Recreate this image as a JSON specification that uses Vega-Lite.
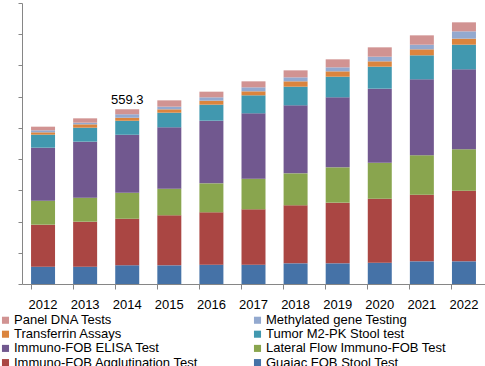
{
  "$schema": "https://vega.github.io/schema/vega-lite/v6.json",
  "width": 463,
  "height": 281,
  "autosize": {"type": "none"},
  "padding": {"left": 22, "top": 3, "right": 0, "bottom": 82},
  "background": "white",
  "config": {
    "view": {"stroke": null},
    "font": "Liberation Sans",
    "axis": {"domainColor": "#868686", "tickColor": "#868686", "grid": false}
  },
  "data": {
    "values": [
      {"year": "2012", "test": "Guaiac FOB Stool Test", "value": 55.5},
      {"year": "2012", "test": "Immuno-FOB Agglutination Test", "value": 134.5},
      {"year": "2012", "test": "Lateral Flow Immuno-FOB Test", "value": 76.9},
      {"year": "2012", "test": "Immuno-FOB ELISA Test", "value": 169.7},
      {"year": "2012", "test": "Tumor M2-PK Stool test", "value": 41.7},
      {"year": "2012", "test": "Transferrin Assays", "value": 7.5},
      {"year": "2012", "test": "Methylated gene Testing", "value": 6.4},
      {"year": "2012", "test": "Panel DNA Tests", "value": 11.7},
      {"year": "2013", "test": "Guaiac FOB Stool Test", "value": 55.5},
      {"year": "2013", "test": "Immuno-FOB Agglutination Test", "value": 144.1},
      {"year": "2013", "test": "Lateral Flow Immuno-FOB Test", "value": 76.9},
      {"year": "2013", "test": "Immuno-FOB ELISA Test", "value": 179.4},
      {"year": "2013", "test": "Tumor M2-PK Stool test", "value": 44.8},
      {"year": "2013", "test": "Transferrin Assays", "value": 10.7},
      {"year": "2013", "test": "Methylated gene Testing", "value": 5.3},
      {"year": "2013", "test": "Panel DNA Tests", "value": 13.9},
      {"year": "2014", "test": "Guaiac FOB Stool Test", "value": 59.8},
      {"year": "2014", "test": "Immuno-FOB Agglutination Test", "value": 149.4},
      {"year": "2014", "test": "Lateral Flow Immuno-FOB Test", "value": 83.3},
      {"year": "2014", "test": "Immuno-FOB ELISA Test", "value": 185.8},
      {"year": "2014", "test": "Tumor M2-PK Stool test", "value": 44.8},
      {"year": "2014", "test": "Transferrin Assays", "value": 9.6},
      {"year": "2014", "test": "Methylated gene Testing", "value": 10.7},
      {"year": "2014", "test": "Panel DNA Tests", "value": 15.9},
      {"year": "2015", "test": "Guaiac FOB Stool Test", "value": 59.8},
      {"year": "2015", "test": "Immuno-FOB Agglutination Test", "value": 160.1},
      {"year": "2015", "test": "Lateral Flow Immuno-FOB Test", "value": 85.4},
      {"year": "2015", "test": "Immuno-FOB ELISA Test", "value": 196.5},
      {"year": "2015", "test": "Tumor M2-PK Stool test", "value": 46.9},
      {"year": "2015", "test": "Transferrin Assays", "value": 10.7},
      {"year": "2015", "test": "Methylated gene Testing", "value": 8.6},
      {"year": "2015", "test": "Panel DNA Tests", "value": 20.2},
      {"year": "2016", "test": "Guaiac FOB Stool Test", "value": 61.9},
      {"year": "2016", "test": "Immuno-FOB Agglutination Test", "value": 167.6},
      {"year": "2016", "test": "Lateral Flow Immuno-FOB Test", "value": 92.9},
      {"year": "2016", "test": "Immuno-FOB ELISA Test", "value": 200.7},
      {"year": "2016", "test": "Tumor M2-PK Stool test", "value": 51.3},
      {"year": "2016", "test": "Transferrin Assays", "value": 12.8},
      {"year": "2016", "test": "Methylated gene Testing", "value": 10.7},
      {"year": "2016", "test": "Panel DNA Tests", "value": 18.1},
      {"year": "2017", "test": "Guaiac FOB Stool Test", "value": 61.9},
      {"year": "2017", "test": "Immuno-FOB Agglutination Test", "value": 177.2},
      {"year": "2017", "test": "Lateral Flow Immuno-FOB Test", "value": 98.3},
      {"year": "2017", "test": "Immuno-FOB ELISA Test", "value": 209.2},
      {"year": "2017", "test": "Tumor M2-PK Stool test", "value": 57.7},
      {"year": "2017", "test": "Transferrin Assays", "value": 12.8},
      {"year": "2017", "test": "Methylated gene Testing", "value": 12.8},
      {"year": "2017", "test": "Panel DNA Tests", "value": 19.2},
      {"year": "2018", "test": "Guaiac FOB Stool Test", "value": 66.2},
      {"year": "2018", "test": "Immuno-FOB Agglutination Test", "value": 185.8},
      {"year": "2018", "test": "Lateral Flow Immuno-FOB Test", "value": 102.4},
      {"year": "2018", "test": "Immuno-FOB ELISA Test", "value": 217.8},
      {"year": "2018", "test": "Tumor M2-PK Stool test", "value": 59.8},
      {"year": "2018", "test": "Transferrin Assays", "value": 17.1},
      {"year": "2018", "test": "Methylated gene Testing", "value": 12.8},
      {"year": "2018", "test": "Panel DNA Tests", "value": 22.4},
      {"year": "2019", "test": "Guaiac FOB Stool Test", "value": 66.2},
      {"year": "2019", "test": "Immuno-FOB Agglutination Test", "value": 194.3},
      {"year": "2019", "test": "Lateral Flow Immuno-FOB Test", "value": 113.2},
      {"year": "2019", "test": "Immuno-FOB ELISA Test", "value": 224.2},
      {"year": "2019", "test": "Tumor M2-PK Stool test", "value": 66.1},
      {"year": "2019", "test": "Transferrin Assays", "value": 17.1},
      {"year": "2019", "test": "Methylated gene Testing", "value": 12.8},
      {"year": "2019", "test": "Panel DNA Tests", "value": 25.7},
      {"year": "2020", "test": "Guaiac FOB Stool Test", "value": 68.3},
      {"year": "2020", "test": "Immuno-FOB Agglutination Test", "value": 205.0},
      {"year": "2020", "test": "Lateral Flow Immuno-FOB Test", "value": 115.3},
      {"year": "2020", "test": "Immuno-FOB ELISA Test", "value": 237.0},
      {"year": "2020", "test": "Tumor M2-PK Stool test", "value": 70.5},
      {"year": "2020", "test": "Transferrin Assays", "value": 17.1},
      {"year": "2020", "test": "Methylated gene Testing", "value": 14.9},
      {"year": "2020", "test": "Panel DNA Tests", "value": 29.9},
      {"year": "2021", "test": "Guaiac FOB Stool Test", "value": 72.6},
      {"year": "2021", "test": "Immuno-FOB Agglutination Test", "value": 213.5},
      {"year": "2021", "test": "Lateral Flow Immuno-FOB Test", "value": 126.0},
      {"year": "2021", "test": "Immuno-FOB ELISA Test", "value": 243.4},
      {"year": "2021", "test": "Tumor M2-PK Stool test", "value": 76.9},
      {"year": "2021", "test": "Transferrin Assays", "value": 19.2},
      {"year": "2021", "test": "Methylated gene Testing", "value": 14.9},
      {"year": "2021", "test": "Panel DNA Tests", "value": 29.9},
      {"year": "2022", "test": "Guaiac FOB Stool Test", "value": 72.6},
      {"year": "2022", "test": "Immuno-FOB Agglutination Test", "value": 226.3},
      {"year": "2022", "test": "Lateral Flow Immuno-FOB Test", "value": 132.4},
      {"year": "2022", "test": "Immuno-FOB ELISA Test", "value": 256.2},
      {"year": "2022", "test": "Tumor M2-PK Stool test", "value": 79.0},
      {"year": "2022", "test": "Transferrin Assays", "value": 19.3},
      {"year": "2022", "test": "Methylated gene Testing", "value": 23.4},
      {"year": "2022", "test": "Panel DNA Tests", "value": 28.9}
    ]
  },
  "layer": [
    {
      "transform": [
        {"calculate": "indexof(['Guaiac FOB Stool Test', 'Immuno-FOB Agglutination Test', 'Lateral Flow Immuno-FOB Test', 'Immuno-FOB ELISA Test', 'Tumor M2-PK Stool test', 'Transferrin Assays', 'Methylated gene Testing', 'Panel DNA Tests'], datum.test)", "as": "stackOrder"}
      ],
      "mark": {"type": "bar"},
      "encoding": {
        "x": {
          "field": "year", "type": "ordinal",
          "scale": {"paddingInner": 0.43, "paddingOuter": 0.215},
          "axis": {
            "title": null, "labelAngle": 0, "bandPosition": 0,
            "tickSize": 5, "labelPadding": 9, "labelFontSize": 13, "labelColor": "#000000"
          }
        },
        "y": {
          "field": "value", "type": "quantitative", "stack": "zero",
          "scale": {"domain": [0, 900], "nice": false},
          "axis": {"title": null, "labels": false, "values": [0,100,200,300,400,500,600,700,800,900], "tickSize": 4}
        },
        "order": {"field": "stackOrder", "type": "quantitative", "sort": "ascending"},
        "color": {
          "field": "test", "type": "nominal",
          "scale": {
            "domain": ["Panel DNA Tests", "Methylated gene Testing", "Transferrin Assays", "Tumor M2-PK Stool test", "Immuno-FOB ELISA Test", "Lateral Flow Immuno-FOB Test", "Immuno-FOB Agglutination Test", "Guaiac FOB Stool Test"],
            "range": ["#D19392", "#93A9CF", "#DB843D", "#4198AF", "#71588F", "#89A54E", "#AA4643", "#4572A7"]
          },
          "legend": {
            "title": null,
            "orient": "none", "legendX": -23, "legendY": 310.5,
            "direction": "horizontal",
            "columns": 2, "columnPadding": 52, "rowPadding": 0.2,
            "symbolType": "square", "symbolSize": 50, "symbolStrokeWidth": 0,
            "labelFontSize": 13, "labelColor": "#000000", "labelOffset": 2, "labelLimit": 300
          }
        }
      }
    },
    {
      "transform": [
        {"aggregate": [{"op": "sum", "field": "value", "as": "total"}], "groupby": ["year"]},
        {"filter": "datum.year == '2014'"}
      ],
      "mark": {"type": "text", "baseline": "bottom", "dy": -2, "fontSize": 13, "color": "#000000"},
      "encoding": {
        "x": {
          "field": "year", "type": "ordinal",
          "axis": {
            "title": null, "labelAngle": 0, "bandPosition": 0,
            "tickSize": 5, "labelPadding": 9, "labelFontSize": 13, "labelColor": "#000000"
          }
        },
        "y": {
          "field": "total", "type": "quantitative",
          "axis": {"title": null, "labels": false, "values": [0,100,200,300,400,500,600,700,800,900], "tickSize": 4}
        },
        "text": {"field": "total", "type": "quantitative", "format": ".1f"}
      }
    }
  ]
}
